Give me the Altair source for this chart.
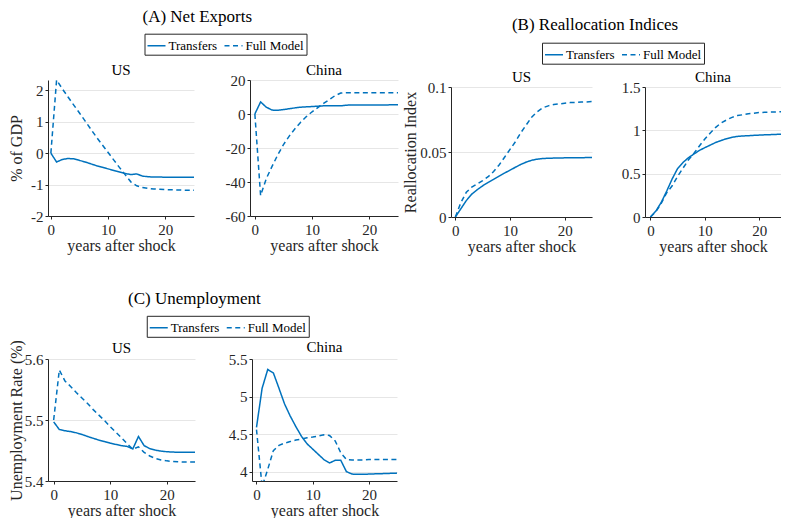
import altair as alt
import pandas as pd

years = list(range(26))
series_names = ["Transfers", "Full Model"]

# (A) Net exports, % of GDP
nx_us_transfers = [0, -0.28, -0.20, -0.17, -0.18, -0.23, -0.28, -0.34, -0.40, -0.45, -0.50, -0.55, -0.60,
                   -0.65, -0.68, -0.66, -0.73, -0.75, -0.76, -0.76, -0.765, -0.77, -0.77, -0.77, -0.77, -0.77]
nx_us_full = [0, 2.33, 2.05, 1.79, 1.53, 1.28, 1.02, 0.76, 0.50, 0.26, 0.02, -0.22, -0.46,
              -0.69, -0.92, -1.04, -1.09, -1.12, -1.14, -1.15, -1.16, -1.165, -1.17, -1.175, -1.18, -1.18]
nx_cn_transfers = [0, 7.1, 4.0, 2.3, 2.2, 2.6, 3.1, 3.6, 4.0, 4.2, 4.4, 4.6, 4.8,
                   4.85, 4.85, 4.8, 5.2, 5.3, 5.3, 5.3, 5.3, 5.3, 5.35, 5.35, 5.4, 5.4]
nx_cn_full = [0, -48, -38, -30.8, -24, -18, -13, -8.7, -4.8, -1.5, 1.3, 3.8, 6.2,
              8.5, 10.8, 12.3, 12.5, 12.5, 12.5, 12.5, 12.5, 12.5, 12.5, 12.5, 12.5, 12.5]

# (B) Reallocation indices
ri_us_transfers = [0, 0.0063, 0.0126, 0.0176, 0.021, 0.024, 0.0266, 0.029, 0.0314, 0.0338, 0.036, 0.0383,
                   0.0405, 0.0423, 0.0437, 0.0445, 0.045, 0.0452, 0.0453, 0.0454, 0.0455, 0.0455, 0.0456,
                   0.0456, 0.0457, 0.0457]
ri_us_full = [0, 0.011, 0.019, 0.023, 0.0255, 0.028, 0.031, 0.035, 0.040, 0.046, 0.052, 0.058, 0.065,
              0.071, 0.077, 0.081, 0.084, 0.0855, 0.0865, 0.087, 0.0875, 0.088, 0.088, 0.0885, 0.0885, 0.0888]
ri_cn_transfers = [0, 0.068, 0.17, 0.30, 0.44, 0.56, 0.63, 0.685, 0.727, 0.768, 0.80, 0.83, 0.86,
                   0.883, 0.904, 0.92, 0.93, 0.935, 0.938, 0.942, 0.945, 0.948, 0.95, 0.953, 0.955, 0.957]
ri_cn_full = [0, 0.06, 0.16, 0.28, 0.36, 0.47, 0.565, 0.66, 0.735, 0.82, 0.90, 0.97, 1.035,
              1.085, 1.12, 1.15, 1.17, 1.18, 1.19, 1.198, 1.205, 1.208, 1.21, 1.212, 1.214, 1.215]

# (C) Unemployment rate, %
ur_us_transfers = [5.497, 5.4844, 5.4824, 5.481, 5.479, 5.4763, 5.473, 5.470, 5.467, 5.4647, 5.462, 5.460,
                   5.458, 5.4567, 5.4526, 5.473, 5.458, 5.453, 5.4506, 5.449, 5.448, 5.4475, 5.447, 5.447,
                   5.447, 5.447]
ur_us_full = [5.50, 5.582, 5.564, 5.555, 5.545, 5.536, 5.527, 5.517, 5.508, 5.499, 5.489, 5.480, 5.471,
              5.461, 5.452, 5.456, 5.447, 5.441, 5.437, 5.4345, 5.433, 5.432, 5.4315, 5.431, 5.431, 5.431]
ur_cn_transfers = [4.59, 5.11, 5.36, 5.315, 5.11, 4.90, 4.74, 4.60, 4.47, 4.37, 4.30, 4.23, 4.16,
                   4.115, 4.15, 4.15, 4.0, 3.967, 3.965, 3.965, 3.967, 3.97, 3.972, 3.975, 3.977, 3.98]
ur_cn_full = [4.56, 3.80, 4.03, 4.28, 4.35, 4.38, 4.40, 4.42, 4.435, 4.45, 4.46, 4.475, 4.49,
              4.48, 4.41, 4.25, 4.16, 4.155, 4.155, 4.155, 4.16, 4.16, 4.16, 4.16, 4.16, 4.16]

x_ticks = [0, 10, 20]

BLUE = "#0072BD"
DARK = "#262626"
FONT = "Liberation Serif"
DASH_SCALE = alt.Scale(domain=series_names, range=[[1, 0], [5, 3.5]])


def frame(a, b):
    return pd.DataFrame({
        "year": years + years,
        "value": a + b,
        "series": [series_names[0]] * len(years) + [series_names[1]] * len(years),
    })


def panel(df, name, ydomain, yticks, ytitle, xdomain, width, height, title_dy, ytitle_pad):
    yaxis_kwargs = dict(values=yticks, grid=True, labelExpr="'' + datum.value")
    if ytitle:
        yaxis_kwargs.update(title=ytitle, titlePadding=ytitle_pad)
    else:
        yaxis_kwargs.update(title=None)
    return alt.Chart(df).mark_line(clip=True, color=BLUE, strokeWidth=1.5).encode(
        x=alt.X("year:Q", scale=alt.Scale(domain=xdomain, nice=False, zero=False),
                axis=alt.Axis(values=x_ticks, title="years after shock", grid=False)),
        y=alt.Y("value:Q", scale=alt.Scale(domain=ydomain, nice=False, zero=False),
                axis=alt.Axis(**yaxis_kwargs)),
        strokeDash=alt.StrokeDash("series:N", scale=DASH_SCALE, legend=None),
        order="year:Q",
    ).properties(
        width=width, height=height,
        title=alt.TitleParams(name, font=FONT, fontSize=15, fontWeight="normal", color="black",
                              anchor="middle", frame="group", offset=0, dy=title_dy),
    )


def header(text, width, height, lx, ly, tdx, tdy):
    legend = alt.Legend(
        orient="none", legendX=lx, legendY=ly, direction="horizontal", title=None,
        symbolType="stroke", symbolSize=324, symbolStrokeWidth=1.5, symbolStrokeColor=BLUE,
        labelFont=FONT, labelFontSize=13, labelColor="black", labelOffset=2,
        columnPadding=4, padding=2, strokeColor=DARK, fillColor="white", labelLimit=0,
    )
    return alt.Chart(pd.DataFrame({"series": series_names})).mark_line(color=BLUE, strokeWidth=1.5).encode(
        strokeDash=alt.StrokeDash("series:N", scale=DASH_SCALE, legend=legend),
    ).properties(
        width=width, height=height,
        title=alt.TitleParams(text, font=FONT, fontSize=17, fontWeight="normal", color="black",
                              anchor="middle", frame="group", offset=0, dx=tdx, dy=tdy),
    )


def indep(c):
    return c.resolve_scale(strokeDash="independent")


a_us = panel(frame(nx_us_transfers, nx_us_full), "US", [-2, 2.33], [-2, -1, 0, 1, 2], "% of GDP",
             [-0.5, 25], 146, 136, -2.4, 6)
a_cn = panel(frame(nx_cn_transfers, nx_cn_full), "China", [-60, 20], [-60, -40, -20, 0, 20], None,
             [-0.85, 25], 148, 136, 5.1, 0)
b_us = panel(frame(ri_us_transfers, ri_us_full), "US", [0, 0.1], [0, 0.05, 0.1], "Reallocation Index",
             [-0.8, 25], 141, 130, 5.4, 1)
b_cn = panel(frame(ri_cn_transfers, ri_cn_full), "China", [0, 1.5], [0, 0.5, 1, 1.5], None,
             [-1, 24], 136, 130, 5.4, 0)
c_us = panel(frame(ur_us_transfers, ur_us_full), "US", [5.4, 5.6], [5.4, 5.5, 5.6], "Unemployment Rate (%)",
             [-1, 25], 147, 122, 16, 0)
c_cn = panel(frame(ur_cn_transfers, ur_cn_full), "China", [3.875, 5.5], [4, 4.5, 5, 5.5], None,
             [-0.8, 25], 145, 122, 3.2, 0)

head_a = header("(A) Net Exports", 350, 36, 96.5, 7.7, -25.75, 0)
head_b = header("(B) Reallocation Indices", 329, 43.2, 91, 16.7, -20.5, 8)
head_c = header("(C) Unemployment", 348, 30.2, 98.75, 7.8, -27.6, 0)

col_a = indep(alt.vconcat(head_a, indep(alt.hconcat(a_us, a_cn, spacing=31)), spacing=0))
col_b = indep(alt.vconcat(head_b, indep(alt.hconcat(b_us, b_cn, spacing=29)), spacing=0))
col_c = indep(alt.vconcat(head_c, indep(alt.hconcat(c_us, c_cn, spacing=33)), spacing=0))

row1 = indep(alt.hconcat(col_a, col_b, spacing=4))

chart = indep(alt.concat(row1, col_c, columns=1, align="none", spacing=36)).properties(
    padding=0
).configure_view(stroke=None).configure_axis(
    domainColor=DARK, tickColor=DARK, labelColor=DARK, titleColor=DARK,
    labelFont=FONT, titleFont=FONT, labelFontSize=15, titleFontSize=16, titleFontWeight="normal",
    tickSize=3, labelPadding=2, gridColor="#e6e6e6", gridWidth=1, domainWidth=1,
).configure_axisX(titlePadding=0, labelPadding=3)

chart.save("out.html", embed_options={"renderer": "svg", "actions": False})
